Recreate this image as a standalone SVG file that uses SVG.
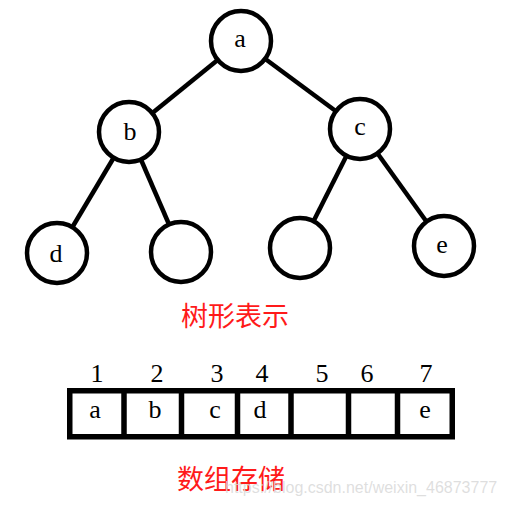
<svg xmlns="http://www.w3.org/2000/svg" width="505" height="507" viewBox="0 0 505 507">
<style>
.bg{fill:#ffffff}
.edge{stroke:#000;stroke-width:4.5;stroke-linecap:butt}
.node circle{fill:#fff;stroke:#000;stroke-width:4.5}
.lbl{font-family:"Liberation Serif","DejaVu Serif",serif;font-size:26px;fill:#000;text-anchor:middle}
.cn{font-family:"Noto Sans CJK SC",sans-serif;font-size:27px;fill:#ff1a1a}
.cell{fill:none;stroke:#000;stroke-width:5.5}
.wm{font-family:"Liberation Sans",Arial,sans-serif;font-size:16px;fill:#d9d9d9;fill-opacity:0.85}
</style>
<rect class="bg" x="0" y="0" width="505" height="507"/>
<g id="connectors">
<line class="edge" x1="241" y1="41" x2="129" y2="132"/>
<line class="edge" x1="241" y1="41" x2="360" y2="129"/>
<line class="edge" x1="129" y1="132" x2="57" y2="253"/>
<line class="edge" x1="129" y1="132" x2="181" y2="252"/>
<line class="edge" x1="360" y1="129" x2="300" y2="248"/>
<line class="edge" x1="360" y1="129" x2="444" y2="246"/>
</g>
<g id="node-a" class="node"><circle cx="241" cy="41" r="30"/><text class="lbl" x="240" y="47">a</text></g>
<g id="node-b" class="node"><circle cx="129" cy="132" r="30"/><text class="lbl" x="130" y="140">b</text></g>
<g id="node-c" class="node"><circle cx="360" cy="129" r="30"/><text class="lbl" x="360" y="135">c</text></g>
<g id="node-d" class="node"><circle cx="57" cy="253" r="30"/><text class="lbl" x="56" y="262">d</text></g>
<g id="node-empty1" class="node"><circle cx="181" cy="252" r="30"/></g>
<g id="node-empty2" class="node"><circle cx="300" cy="248" r="30"/></g>
<g id="node-e" class="node"><circle cx="444" cy="246" r="30"/><text class="lbl" x="442" y="253">e</text></g>
<text class="cn" x="181" y="326">树形表示</text>
<g id="array">
<rect class="cell" x="69.75" y="390.75" width="382.5" height="46"/>
<line class="cell" x1="124" y1="390" x2="124" y2="437"/>
<line class="cell" x1="181.5" y1="390" x2="181.5" y2="437"/>
<line class="cell" x1="237.5" y1="390" x2="237.5" y2="437"/>
<line class="cell" x1="291" y1="390" x2="291" y2="437"/>
<line class="cell" x1="348.5" y1="390" x2="348.5" y2="437"/>
<line class="cell" x1="397.5" y1="390" x2="397.5" y2="437"/>
<text class="lbl" x="97" y="382">1</text>
<text class="lbl" x="157" y="382">2</text>
<text class="lbl" x="217" y="382">3</text>
<text class="lbl" x="262" y="382">4</text>
<text class="lbl" x="322" y="382">5</text>
<text class="lbl" x="367" y="382">6</text>
<text class="lbl" x="426" y="382">7</text>
<text class="lbl" x="95" y="418">a</text>
<text class="lbl" x="155" y="418">b</text>
<text class="lbl" x="215" y="418">c</text>
<text class="lbl" x="260" y="418">d</text>
<text class="lbl" x="425" y="418">e</text>
</g>
<text class="cn" x="177" y="489">数组存储</text>
<text class="wm" x="225" y="493">https://blog.csdn.net/weixin_46873777</text>
</svg>
